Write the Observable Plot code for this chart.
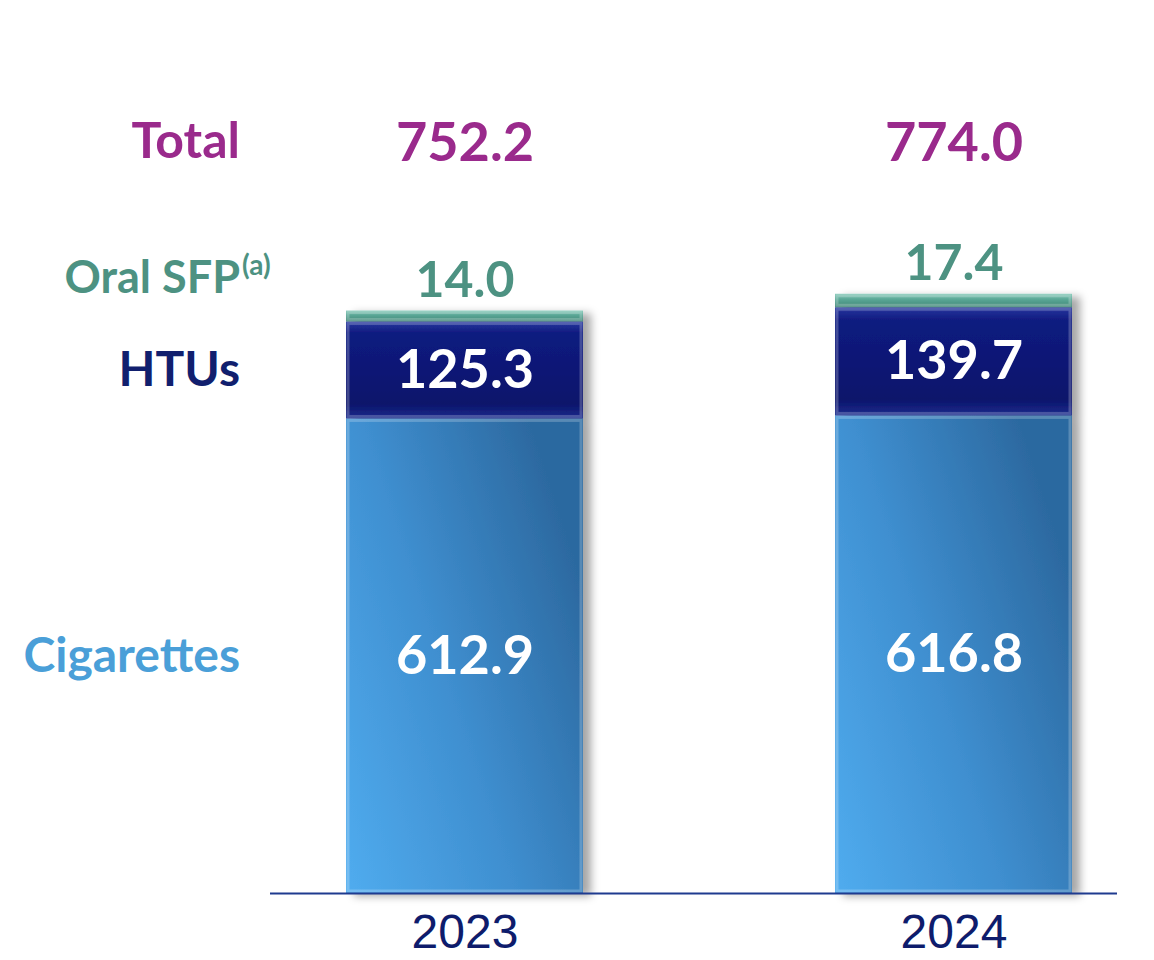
<!DOCTYPE html>
<html>
<head>
<meta charset="utf-8">
<script src="https://cdn.jsdelivr.net/npm/d3@7"></script>
<script src="https://cdn.jsdelivr.net/npm/@observablehq/plot@0.6"></script>
<style>
  html, body { margin: 0; padding: 0; background: #ffffff; }
  #chart { width: 1154px; height: 960px; }
</style>
</head>
<body>
<div id="chart"></div>
<script>
// ---- data ----
const years = ["2023", "2024"];
const categories = ["Cigarettes", "HTUs", "Oral SFP"];
const cigarettes = [612.9, 616.8];
const htus = [125.3, 139.7];
const oralSfp = [14.0, 17.4];
const totals = [752.2, 774.0];
const rowLabels = ["Total", "Oral SFP", "HTUs", "Cigarettes"];
const footnoteMark = "(a)";

// ---- styling ----
const gradIds = {"Cigarettes": "url(#gCig)", "HTUs": "url(#gHtu)", "Oral SFP": "url(#gOral)"};
const labelColors = {"Total": "#9a2a8c", "Oral SFP": "#4d9282", "HTUs": "#111f6e", "Cigarettes": "#4a9fd8"};

// table built from arrays
const seriesValues = {"Cigarettes": cigarettes, "HTUs": htus, "Oral SFP": oralSfp};
const table = [];
years.forEach((yr, i) => {
  categories.forEach(cat => table.push({year: yr, cat, value: seriesValues[cat][i]}));
});
const totalRows = years.map((yr, i) => ({year: yr, total: totals[i]}));

const fmt = d3.format(".1f");
const font = "Lato, 'Noto Sans', sans-serif";

const plot = Plot.plot({
  width: 1154,
  height: 960,
  marginLeft: 270,
  marginRight: 37,
  marginTop: 80,
  marginBottom: 67,
  style: {fontFamily: font, background: "#ffffff", overflow: "visible"},
  x: {domain: years, paddingInner: 0.516, paddingOuter: 0.1223, align: 0.626, axis: null},
  y: {domain: [0, 1050], axis: null},
  color: {type: "identity"},
  marks: [
    // bars
    Plot.barY(table, Plot.stackY({
      x: "year", y: "value", z: "cat", fill: d => gradIds[d.cat], order: categories,
      className: "bars"
    })),
    // bevel highlight
    Plot.barY(table, Plot.stackY({
      x: "year", y: "value", z: "cat", order: categories,
      fill: "none", stroke: "rgba(255,255,255,0.22)", strokeWidth: 3,
      inset: 2
    })),
    // baseline
    Plot.ruleY([0], {stroke: "#1f3b8f", strokeWidth: 2}),
    // year labels
    Plot.axisX({
      label: null, tickSize: 0, tickPadding: 20, fontSize: 48, fill: "#0e1c6c",
      fontFamily: "'Liberation Sans', Arial, sans-serif", fontWeight: 400
    }),
    // inside values: cigarettes & HTUs
    Plot.text(table, Plot.stackY({
      x: "year", y: "value", z: "cat", order: categories,
      filter: d => d.cat !== "Oral SFP",
      text: d => fmt(d.value), fill: "#ffffff", fontSize: 54, fontWeight: 700
    })),
    // oral SFP values above bars
    Plot.text(totalRows, {
      x: "year", y: "total", text: (d, i) => fmt(oralSfp[i]),
      fill: labelColors["Oral SFP"], fontSize: 50, fontWeight: 700, dy: -30
    }),
    // totals
    Plot.text(totalRows, {
      x: "year", frameAnchor: "top", dy: 42, text: d => fmt(d.total),
      fill: labelColors["Total"], fontSize: 54, fontWeight: 700
    }),
    // left row labels (aligned with 2023 labels)
    Plot.text([rowLabels[0]], {
      x: () => years[0], frameAnchor: "top", dy: 42, dx: -225, textAnchor: "end",
      text: d => d, fill: labelColors["Total"], fontSize: 50, fontWeight: 700
    }),
    Plot.text([rowLabels[1]], {
      x: () => years[0], y: () => totals[0], dy: -32, dx: -225, textAnchor: "end",
      text: d => d, fill: labelColors["Oral SFP"], fontSize: 45, fontWeight: 700
    }),
    Plot.text([footnoteMark], {
      x: () => years[0], y: () => totals[0], dy: -45, dx: -223, textAnchor: "start",
      text: d => d, fill: labelColors["Oral SFP"], fontSize: 28, fontWeight: 700
    }),
    Plot.text(table, Plot.stackY({
      x: "year", y: "value", z: "cat", order: categories,
      filter: d => d.year === years[0] && d.cat !== "Oral SFP",
      text: "cat", fill: d => labelColors[d.cat], fontSize: 48, fontWeight: 700,
      dx: -225, textAnchor: "end"
    }))
  ]
});

// gradient / filter definitions
const svgNS = "http://www.w3.org/2000/svg";
const defs = document.createElementNS(svgNS, "defs");
defs.innerHTML = `
  <linearGradient id="gCig" x1="0" y1="1" x2="1" y2="0.35">
    <stop offset="0" stop-color="#50acef"/>
    <stop offset="0.5" stop-color="#3f8fd0"/>
    <stop offset="1" stop-color="#2c69a0"/>
  </linearGradient>
  <linearGradient id="gHtu" x1="0" y1="0" x2="0" y2="1">
    <stop offset="0" stop-color="#28389f"/>
    <stop offset="0.12" stop-color="#101b80"/>
    <stop offset="0.85" stop-color="#0b156b"/>
    <stop offset="1" stop-color="#1a2a8c"/>
  </linearGradient>
  <linearGradient id="gOral" x1="0" y1="0" x2="0" y2="1">
    <stop offset="0" stop-color="#86c9b9"/>
    <stop offset="0.4" stop-color="#5ba897"/>
    <stop offset="1" stop-color="#3f8575"/>
  </linearGradient>
  <filter id="shadow" x="-10%" y="-10%" width="130%" height="120%">
    <feDropShadow dx="8" dy="3" stdDeviation="4" flood-color="#000" flood-opacity="0.35"/>
  </filter>`;
plot.insertBefore(defs, plot.firstChild);
const bars = plot.querySelector("g.bars");
if (bars) bars.setAttribute("filter", "url(#shadow)");

document.getElementById("chart").appendChild(plot);
</script>
</body>
</html>
